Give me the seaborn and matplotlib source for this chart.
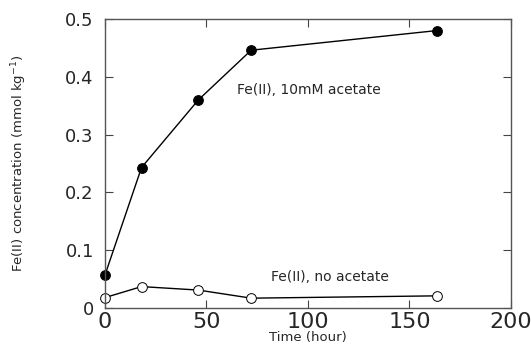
import pandas as pd
import numpy as np
import matplotlib
matplotlib.use('Agg')
import matplotlib.pyplot as plt
import seaborn as sns

# Data
time_acetate = [0, 18, 46, 72, 163.5]
fe_acetate = [0.057, 0.243, 0.36, 0.446, 0.48]
time_none = [0, 18, 46, 72, 163.5]
fe_none = [0.018, 0.037, 0.031, 0.017, 0.021]

df_acetate = pd.DataFrame({'Time': time_acetate, 'Fe': fe_acetate})
df_none = pd.DataFrame({'Time': time_none, 'Fe': fe_none})

sns.set_style('ticks')
plt.rcParams['font.family'] = ['DejaVu Sans']

fig = plt.figure(figsize=(5.31, 3.58), dpi=100)
ax = fig.add_axes([0.1977, 0.1397, 0.7646, 0.8072])

sns.lineplot(data=df_acetate, x='Time', y='Fe', ax=ax, color='black', lw=1,
             marker='o', markersize=7, markerfacecolor='black',
             markeredgecolor='black', clip_on=False)
sns.lineplot(data=df_none, x='Time', y='Fe', ax=ax, color='black', lw=1,
             marker='o', markersize=7, markerfacecolor='white',
             markeredgecolor='black', markeredgewidth=0.7, clip_on=False)

ax.set_xlim(0, 200)
ax.set_ylim(0, 0.5)
ax.set_xticks([0, 50, 100, 150, 200])
ax.set_yticks([0, 0.1, 0.2, 0.3, 0.4, 0.5])
ax.set_yticklabels(['0', '0.1', '0.2', '0.3', '0.4', '0.5'])
ax.tick_params(direction='in', top=True, right=True, length=6, width=0.8, color='#444444')
ax.tick_params(axis='x', labelsize=16, pad=3)
ax.tick_params(axis='y', labelsize=13, pad=8)
for s in ax.spines.values():
    s.set_color('#555555')
    s.set_linewidth(1)

ax.set_xlabel('Time (hour)', fontsize=9.5, labelpad=-1)
ax.set_ylabel('Fe(II) concentration (mmol kg$^{-1}$)', fontsize=9.5, labelpad=26)

ax.text(65, 0.377, 'Fe(II), 10mM acetate', fontsize=10, va='center', ha='left')
ax.text(82, 0.054, 'Fe(II), no acetate', fontsize=10, va='center', ha='left')

fig.savefig('out.png', dpi=100)
